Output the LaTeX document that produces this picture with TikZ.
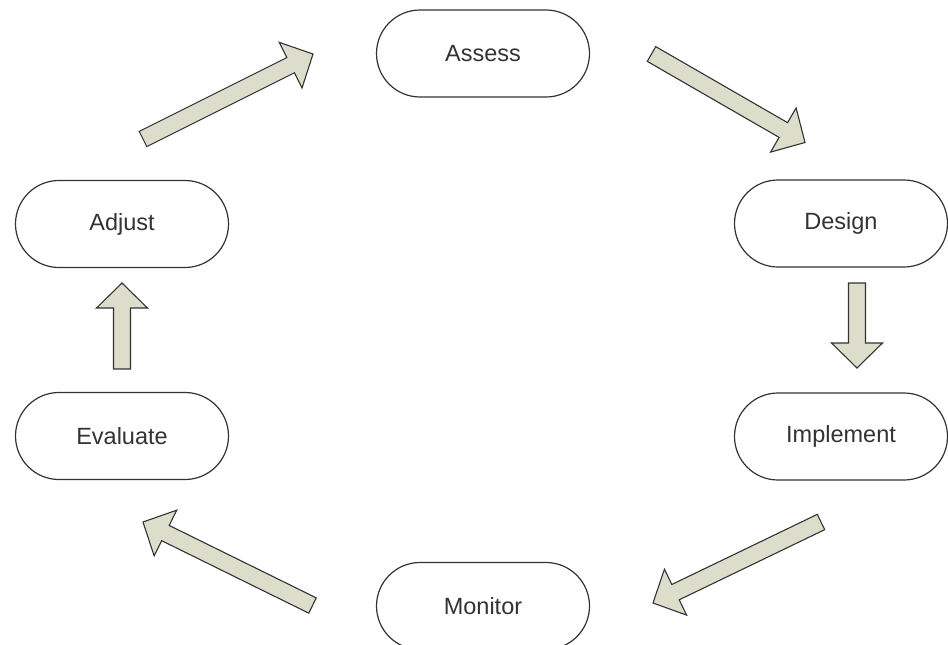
\documentclass[tikz,border=0pt]{standalone}
\usepackage{fontspec}
\setmainfont{Liberation Sans}
\usetikzlibrary{shapes.misc,calc}
\definecolor{boxline}{HTML}{333333}
\definecolor{arrowfill}{HTML}{DCDECB}
\definecolor{txt}{HTML}{333333}
\tikzset{
  stage/.style={rounded rectangle, draw=boxline, line width=1.2pt, fill=white,
    minimum width=213pt, minimum height=87pt, inner sep=0pt, text=txt,
    font=\fontsize{23.5}{28}\selectfont},
  blockarrow/.style={draw=boxline, fill=arrowfill, line width=1.1pt, line join=miter}
}
% #1 tail coordinate, #2 tip coordinate
\newcommand\blockarr[2]{%
  \coordinate (#1base) at ($(#2)!25pt!(#1)$);
  \draw[blockarrow]
    ($(#1)!8.5pt!90:(#2)$) --
    ($(#1base)!8.5pt!90:(#2)$) --
    ($(#1base)!25.5pt!90:(#2)$) --
    (#2) --
    ($(#1base)!25.5pt!-90:(#2)$) --
    ($(#1base)!8.5pt!-90:(#2)$) --
    ($(#1)!8.5pt!-90:(#2)$) -- cycle;
}
\begin{document}
\begin{tikzpicture}[x=1pt,y=-1pt]
  \clip (0,0) rectangle (948,645);
  \fill[white] (0,0) rectangle (948,645);

  \node[stage] (assess)    at (483,53.5)  {Assess};
  \node[stage] (design)    at (841,223.5) {Design};
  \node[stage] (implement) at (841,436.5) {Implement};
  \node[stage] (monitor)   at (483,606)   {Monitor};
  \node[stage] (evaluate)  at (122,436)   {Evaluate};
  \node[stage] (adjust)    at (122,224)   {Adjust};

  \coordinate (aT) at (143,139);   \coordinate (aH) at (313,54);
  \coordinate (bT) at (651.5,54);  \coordinate (bH) at (805,142.5);
  \coordinate (cT) at (857,283);   \coordinate (cH) at (857,368);
  \coordinate (dT) at (821,522);   \coordinate (dH) at (653,603);
  \coordinate (eT) at (312.5,605.5); \coordinate (eH) at (143,522);
  \coordinate (fT) at (122,369);   \coordinate (fH) at (122,283);

  \blockarr{aT}{aH}
  \blockarr{bT}{bH}
  \blockarr{cT}{cH}
  \blockarr{dT}{dH}
  \blockarr{eT}{eH}
  \blockarr{fT}{fH}
\end{tikzpicture}
\end{document}
